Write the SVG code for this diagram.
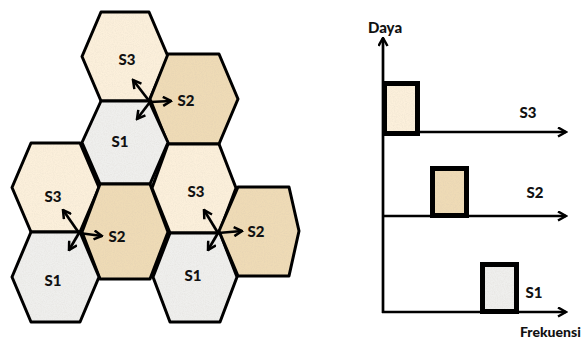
<svg xmlns="http://www.w3.org/2000/svg" width="585" height="341" viewBox="0 0 585 341">
<style>
.f{stroke:none;filter:url(#grain)}
.o{fill:none;stroke:#000;stroke-width:3;stroke-linejoin:round}
.s3{fill:#FCF0DB}
.s2{fill:#EFDBB6}
.s1{fill:#EFEFED}
.lbl{font-family:Lato,"Open Sans","Liberation Sans",sans-serif;font-weight:900;font-size:15px;fill:#111}
.arr{stroke:#000;stroke-width:2.7;fill:none;marker-end:url(#ah)}
.axis{stroke:#000;stroke-width:2.7;fill:none;marker-end:url(#ah)}
.bo{fill:none;stroke:#000;stroke-width:5}
</style>
<defs>
<marker id="ah" viewBox="0 0 11 11" refX="9.5" refY="5.5" markerWidth="11" markerHeight="11" markerUnits="userSpaceOnUse" orient="auto">
<path d="M1.5,1 L9.5,5.5 L1.5,10" fill="none" stroke="#000" stroke-width="2.5"/>
</marker>
<filter id="grain" x="0" y="0" width="100%" height="100%">
<feTurbulence type="fractalNoise" baseFrequency="0.9" numOctaves="2" seed="2" result="noise"/>
<feColorMatrix in="noise" type="matrix" values="0 0 0 0 0.55  0 0 0 0 0.5  0 0 0 0 0.45  0 0 0 0.35 -0.12" result="speck"/>
<feComposite in="speck" in2="SourceAlpha" operator="in" result="sp"/>
<feMerge><feMergeNode in="SourceGraphic"/><feMergeNode in="sp"/></feMerge>
</filter>
</defs>
<rect width="585" height="341" fill="#fff"/>
<g id="hex-top-s3"><polygon class="f s3" points="82,56.5 101,12 149,12 168,56.5 149,101 101,101"/><polygon class="o" points="82,56.5 101,12 149,12 168,56.5 149,101 101,101"/><text class="lbl" x="127" y="65" text-anchor="middle">S3</text></g>
<g id="hex-top-s2"><polygon class="f s2" points="150,99 168,54 219,54 238,99 219,144 168,144"/><polygon class="o" points="150,99 168,54 219,54 238,99 219,144 168,144"/><text class="lbl" x="186" y="106" text-anchor="middle">S2</text></g>
<g id="hex-mid-s1"><polygon class="f s1" points="82,142.5 101,101 149,101 168,142.5 150,184 100,184"/><polygon class="o" points="82,142.5 101,101 149,101 168,142.5 150,184 100,184"/><text class="lbl" x="120" y="147" text-anchor="middle">S1</text></g>
<g id="hex-left-s3"><polygon class="f s3" points="12,187.5 31,143 80,143 99,187.5 80,232 31,232"/><polygon class="o" points="12,187.5 31,143 80,143 99,187.5 80,232 31,232"/><text class="lbl" x="53" y="202" text-anchor="middle">S3</text></g>
<g id="hex-mid-s2"><polygon class="f s2" points="82,232 100,184 150,184 168,232 150,279 100,279"/><polygon class="o" points="82,232 100,184 150,184 168,232 150,279 100,279"/><text class="lbl" x="117" y="242" text-anchor="middle">S2</text></g>
<g id="hex-left-s1"><polygon class="f s1" points="12,277 31,232 80,232 99,277 80,322 31,322"/><polygon class="o" points="12,277 31,232 80,232 99,277 80,322 31,322"/><text class="lbl" x="53" y="286" text-anchor="middle">S1</text></g>
<g id="hex-right-s3"><polygon class="f s3" points="152,188 168,144 219,144 236,188 219,233 170,233"/><polygon class="o" points="152,188 168,144 219,144 236,188 219,233 170,233"/><text class="lbl" x="196" y="197" text-anchor="middle">S3</text></g>
<g id="hex-right-s1"><polygon class="f s1" points="153,277 170,233 220,233 237,277 220,322 170,322"/><polygon class="o" points="153,277 170,233 220,233 237,277 220,322 170,322"/><text class="lbl" x="193" y="281" text-anchor="middle">S1</text></g>
<g id="hex-right-s2"><polygon class="f s2" points="219,231 238,187 289,187 299,231 289,276 238,276"/><polygon class="o" points="219,231 238,187 289,187 299,231 289,276 238,276"/><text class="lbl" x="256" y="237" text-anchor="middle">S2</text></g>
<g id="connectors">
<line class="arr" x1="150" y1="102" x2="133" y2="80"/>
<line class="arr" x1="150" y1="102" x2="171" y2="101"/>
<line class="arr" x1="150" y1="102" x2="137" y2="119"/>
<line class="arr" x1="79" y1="233" x2="63" y2="210"/>
<line class="arr" x1="79" y1="233" x2="102" y2="236"/>
<line class="arr" x1="79" y1="233" x2="69" y2="250"/>
<line class="arr" x1="218" y1="233" x2="204" y2="210"/>
<line class="arr" x1="218" y1="233" x2="242" y2="231"/>
<line class="arr" x1="218" y1="233" x2="208" y2="250"/>
<line class="axis" x1="383" y1="313" x2="383" y2="38"/>
<line class="axis" x1="382" y1="132" x2="566" y2="132"/>
<line class="axis" x1="382" y1="216" x2="566" y2="216"/>
<line class="axis" x1="382" y1="312" x2="566" y2="312"/>
</g>
<g id="chart-labels">
<text class="lbl" x="385" y="33" text-anchor="middle">Daya</text>
<text class="lbl" x="528" y="118" text-anchor="middle">S3</text>
<text class="lbl" x="535" y="198" text-anchor="middle">S2</text>
<text class="lbl" x="534" y="298" text-anchor="middle">S1</text>
<text class="lbl" x="520" y="337" style="font-size:14px">Frekuensi</text>
</g>
<g id="bar-s3"><rect class="f s3" x="384.5" y="83.5" width="33" height="50"/><rect class="bo" x="384.5" y="83.5" width="33" height="50"/></g>
<g id="bar-s2"><rect class="f s2" x="432.5" y="168.5" width="34" height="47"/><rect class="bo" x="432.5" y="168.5" width="34" height="47"/></g>
<g id="bar-s1"><rect class="f s1" x="482.5" y="264.5" width="34" height="47"/><rect class="bo" x="482.5" y="264.5" width="34" height="47"/></g>
</svg>
